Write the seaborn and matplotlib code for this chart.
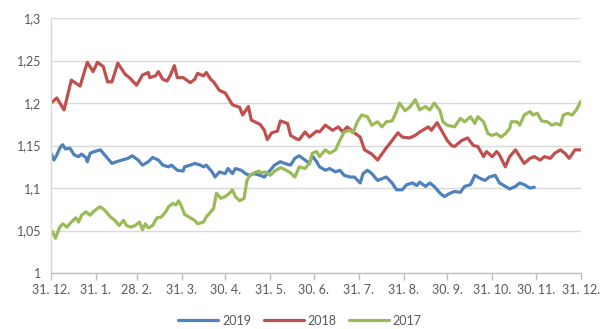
import matplotlib
matplotlib.use("Agg")
import matplotlib.pyplot as plt
import seaborn as sns
import pandas as pd

# ---- data (day of year since 31.12., value) ----
days_2019 = [0, 2, 4, 6, 8, 10, 13, 16, 19, 21, 24, 25, 27, 30, 34, 36, 39, 42, 45, 49, 53, 56, 60, 63,
             67, 70, 74, 77, 81, 83, 87, 91, 92, 96, 99, 103, 105, 107, 111, 113, 116, 120, 122, 125,
             127, 131, 134, 137, 140, 144, 147, 151, 154, 158, 161, 165, 168, 171, 175, 178, 180, 183,
             185, 189, 192, 196, 199, 202, 206, 209, 213, 215, 218, 221, 225, 228, 231, 235, 238, 242,
             245, 249, 252, 254, 258, 261, 264, 268, 271, 275, 278, 282, 285, 289, 292, 295, 299, 302,
             306, 309, 313, 316, 320, 323, 326, 330, 333]
vals_2019 = [1.141, 1.133, 1.139, 1.147, 1.151, 1.146, 1.147, 1.139, 1.137, 1.140, 1.136, 1.131, 1.141,
             1.143, 1.145, 1.141, 1.135, 1.129, 1.131, 1.133, 1.135, 1.138, 1.133, 1.127, 1.131, 1.136,
             1.133, 1.127, 1.125, 1.127, 1.121, 1.120, 1.125, 1.127, 1.129, 1.127, 1.125, 1.127, 1.119,
             1.113, 1.119, 1.117, 1.123, 1.117, 1.123, 1.121, 1.117, 1.115, 1.117, 1.115, 1.113, 1.121,
             1.127, 1.131, 1.129, 1.127, 1.135, 1.138, 1.133, 1.129, 1.138, 1.131, 1.125, 1.121, 1.123,
             1.119, 1.121, 1.115, 1.113, 1.113, 1.106, 1.117, 1.121, 1.117, 1.109, 1.111, 1.113, 1.106,
             1.098, 1.098, 1.104, 1.106, 1.103, 1.107, 1.102, 1.106, 1.102, 1.094, 1.090, 1.094, 1.096,
             1.095, 1.102, 1.104, 1.115, 1.112, 1.109, 1.113, 1.115, 1.106, 1.102, 1.099, 1.102, 1.106,
             1.104, 1.100, 1.101]

days_2018 = [0, 4, 9, 14, 20, 25, 29, 32, 36, 39, 42, 46, 51, 54, 59, 63, 67, 68, 72, 74, 77, 80, 82, 85,
             87, 91, 96, 99, 101, 105, 107, 110, 112, 116, 120, 125, 130, 132, 136, 138, 144, 147, 149,
             152, 156, 158, 163, 165, 169, 171, 175, 178, 183, 185, 189, 194, 198, 201, 204, 207, 209,
             213, 216, 221, 225, 230, 235, 239, 242, 247, 251, 254, 260, 262, 266, 269, 273, 276, 278,
             283, 287, 291, 294, 298, 300, 304, 307, 309, 313, 316, 320, 323, 326, 330, 333, 337, 340,
             344, 347, 351, 354, 357, 361, 365]
vals_2018 = [1.200, 1.206, 1.192, 1.227, 1.220, 1.248, 1.237, 1.248, 1.243, 1.225, 1.225, 1.247, 1.234,
             1.230, 1.221, 1.233, 1.236, 1.230, 1.232, 1.237, 1.228, 1.226, 1.232, 1.244, 1.230, 1.230,
             1.224, 1.228, 1.235, 1.232, 1.236, 1.228, 1.225, 1.215, 1.212, 1.198, 1.195, 1.186, 1.196,
             1.180, 1.175, 1.168, 1.157, 1.165, 1.167, 1.179, 1.176, 1.162, 1.158, 1.157, 1.166, 1.160,
             1.167, 1.166, 1.174, 1.168, 1.172, 1.166, 1.172, 1.168, 1.165, 1.160, 1.145, 1.140, 1.133,
             1.145, 1.156, 1.165, 1.160, 1.159, 1.162, 1.166, 1.172, 1.168, 1.177, 1.168, 1.156, 1.150,
             1.149, 1.156, 1.159, 1.150, 1.149, 1.137, 1.143, 1.137, 1.143, 1.139, 1.125, 1.137, 1.145,
             1.137, 1.129, 1.135, 1.137, 1.133, 1.137, 1.135, 1.141, 1.145, 1.141, 1.135, 1.145, 1.145]

days_2017 = [1, 3, 6, 8, 11, 14, 17, 19, 21, 24, 27, 29, 32, 34, 37, 41, 44, 47, 50, 52, 55, 58, 61, 63,
             65, 67, 70, 73, 76, 79, 81, 84, 86, 88, 90, 92, 96, 99, 101, 105, 107, 110, 112, 114, 117,
             120, 123, 125, 127, 130, 133, 135, 137, 140, 143, 145, 148, 151, 154, 158, 161, 165, 168,
             171, 175, 178, 180, 183, 185, 189, 192, 196, 199, 202, 206, 208, 211, 214, 218, 221, 225,
             228, 231, 235, 238, 240, 244, 247, 251, 254, 258, 261, 264, 268, 270, 273, 278, 282, 285,
             289, 292, 294, 298, 301, 304, 307, 310, 313, 316, 317, 321, 323, 326, 330, 332, 335, 338,
             342, 345, 348, 351, 353, 356, 359, 362, 365]
vals_2017 = [1.049, 1.041, 1.054, 1.058, 1.054, 1.060, 1.065, 1.060, 1.068, 1.072, 1.068, 1.072, 1.076,
             1.078, 1.074, 1.066, 1.062, 1.056, 1.062, 1.056, 1.054, 1.056, 1.060, 1.051, 1.058, 1.053,
             1.056, 1.065, 1.066, 1.072, 1.078, 1.082, 1.080, 1.085, 1.078, 1.069, 1.065, 1.062, 1.058,
             1.060, 1.066, 1.072, 1.076, 1.094, 1.088, 1.090, 1.094, 1.098, 1.090, 1.085, 1.088, 1.109,
             1.115, 1.118, 1.120, 1.118, 1.119, 1.115, 1.120, 1.124, 1.122, 1.118, 1.113, 1.125, 1.123,
             1.129, 1.141, 1.143, 1.137, 1.145, 1.141, 1.145, 1.156, 1.166, 1.168, 1.165, 1.178, 1.186,
             1.184, 1.174, 1.178, 1.172, 1.178, 1.179, 1.190, 1.200, 1.191, 1.195, 1.204, 1.192, 1.196,
             1.192, 1.200, 1.191, 1.178, 1.174, 1.172, 1.182, 1.178, 1.184, 1.176, 1.184, 1.178, 1.164,
             1.162, 1.164, 1.160, 1.164, 1.170, 1.178, 1.178, 1.174, 1.186, 1.190, 1.186, 1.188, 1.179,
             1.178, 1.174, 1.176, 1.174, 1.186, 1.188, 1.186, 1.192, 1.202]

series_names = ["2019", "2018", "2017"]
colors = ["#4F81BD", "#C0504D", "#9BBB59"]

tick_days = [0, 31, 59, 90, 120, 151, 181, 212, 243, 273, 304, 334, 365]
tick_labels = ["31. 12.", "31. 1.", "28. 2.", "31. 3.", "30. 4.", "31. 5.", "30. 6.",
               "31. 7.", "31. 8.", "30. 9.", "31. 10.", "30. 11.", "31. 12."]
y_ticks = [1.0, 1.05, 1.1, 1.15, 1.2, 1.25, 1.3]
y_labels = ["1", "1,05", "1,1", "1,15", "1,2", "1,25", "1,3"]

frames = []
for name, d, v in zip(series_names, [days_2019, days_2018, days_2017],
                      [vals_2019, vals_2018, vals_2017]):
    frames.append(pd.DataFrame({"day": d, "value": v, "year": name}))
df = pd.concat(frames, ignore_index=True)

sns.set_theme(style="white")
plt.rcParams["font.family"] = ["Lato", "DejaVu Sans"]

fig = plt.figure(figsize=(6.0, 3.29), dpi=100)
ax = fig.add_axes([0.085, 0.170, 0.883, 0.775])

sns.lineplot(data=df, x="day", y="value", hue="year", hue_order=series_names,
             palette=dict(zip(series_names, colors)), linewidth=2.3, ax=ax,
             estimator=None, sort=True)

ax.set_xlim(0, 365)
ax.set_ylim(1.0, 1.3)
ax.set_yticks(y_ticks)
ax.set_yticklabels(y_labels)
ax.set_xticks(tick_days)
ax.set_xticklabels(tick_labels)
ax.set_xlabel("")
ax.set_ylabel("")

ax.yaxis.grid(True, color="#d9d9d9", linewidth=1.0)
ax.set_axisbelow(True)
for s in ["top", "right"]:
    ax.spines[s].set_visible(False)
ax.spines["left"].set_color("#d9d9d9")
ax.spines["left"].set_linewidth(1.0)
ax.spines["bottom"].set_color("#bfbfbf")
ax.spines["bottom"].set_linewidth(1.0)

ax.tick_params(axis="y", length=0, labelsize=9, labelcolor="#595959", pad=7)
ax.tick_params(axis="x", length=5, width=1, color="#bfbfbf", direction="out",
               labelsize=9, labelcolor="#595959", pad=3, bottom=True)

handles, labels = ax.get_legend_handles_labels()
ax.legend(handles, labels, loc="lower center", bbox_to_anchor=(0.47, -0.255),
          ncol=3, frameon=False, fontsize=9, handlelength=3.2, columnspacing=1.0,
          handletextpad=0.3, labelcolor="#595959")

fig.savefig("out.png", dpi=100)
